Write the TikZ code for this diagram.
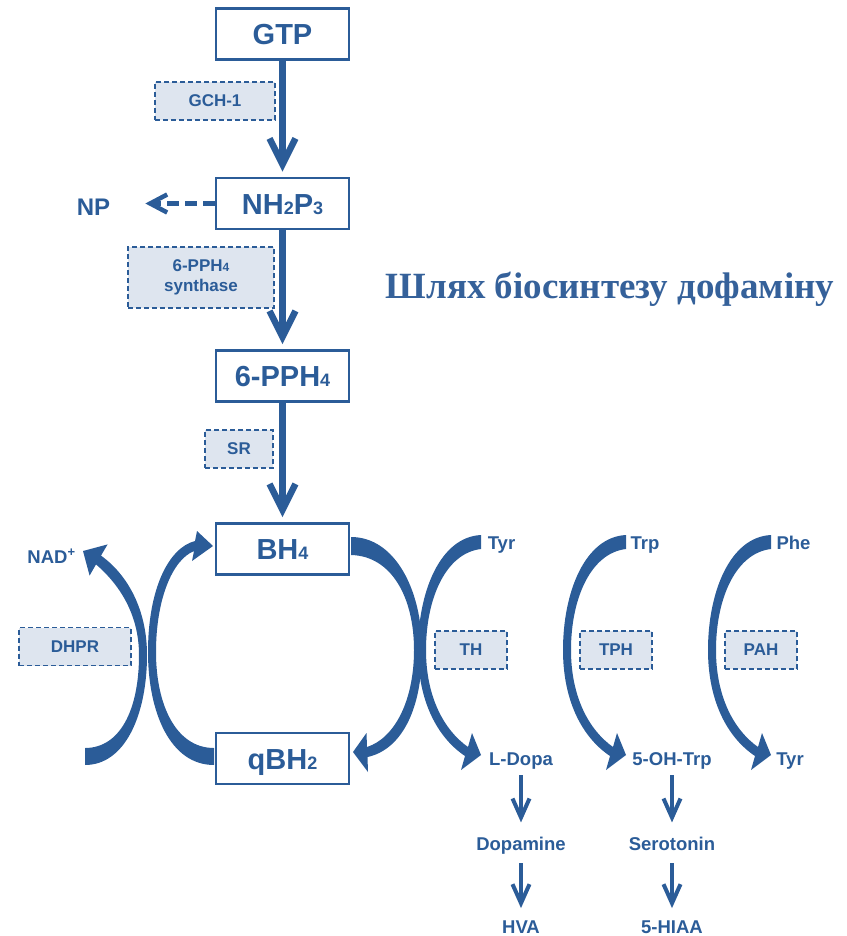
\documentclass[tikz,border=0pt]{standalone}
\usepackage{fontspec}
\setmainfont{Liberation Sans}
\newfontfamily\titlefont{Liberation Serif}
\usetikzlibrary{arrows.meta}
\definecolor{mblue}{HTML}{2B5C98}
\definecolor{efill}{HTML}{DEE5EF}
\definecolor{ttl}{HTML}{35619A}
\newcommand{\smd}[1]{{\fontsize{18}{18}\selectfont #1}}
\newcommand{\esd}[1]{{\fontsize{12}{12}\selectfont #1}}
\begin{document}
\begin{tikzpicture}[x=1pt,y=-1pt,
  mainbox/.style={draw=mblue,line width=2.6pt,minimum width=133pt,minimum height=51pt,inner sep=0pt,text=mblue,font=\fontsize{29}{30}\selectfont\bfseries,text height=21pt,text depth=0pt},
  enzbox/.style={draw=mblue,line width=1.6pt,dash pattern=on 5pt off 3pt,fill=efill,inner sep=0pt,text=mblue,font=\fontsize{17}{20}\selectfont\bfseries,align=center},
  lbl/.style={text=mblue,font=\fontsize{18.5}{20}\selectfont\bfseries,inner sep=0pt,anchor=base},
  mainarrow/.style={draw=mblue,line width=6.5pt,-{Straight Barb[length=26pt,width=26pt]}},
  smallarrow/.style={draw=mblue,line width=4pt,-{Straight Barb[length=19pt,width=17pt]}},
  dasharrow/.style={draw=mblue,line width=4.5pt,dash pattern=on 12pt off 6pt,-{Straight Barb[length=17pt,width=18pt]}},
  crescent/.style={fill=mblue}
]
\useasboundingbox (0,0) rectangle (846,936);

% main boxes
\node[mainbox] (gtp) at (282.5,34) {GTP};
\node[mainbox] (nh) at (282.5,203.5) {NH\smd{2}P\smd{3}};
\node[mainbox] (pph) at (282.5,376) {6-PPH\smd{4}};
\node[mainbox] (bh4) at (282.5,549) {BH\smd{4}};
\node[mainbox] (qbh2) at (282.5,758.5) {qBH\smd{2}};

% enzyme boxes
\node[enzbox,minimum width=120pt,minimum height=38pt] (gch) at (215,101) {GCH-1};
\node[enzbox,minimum width=146pt,minimum height=61pt] (ppts) at (201,277.5) {6-PPH\esd{4}\\synthase};
\node[enzbox,minimum width=68pt,minimum height=38pt] (sr) at (239,449) {SR};
\node[enzbox,minimum width=112pt,minimum height=38pt] (dhpr) at (75,646.5) {DHPR};
\node[enzbox,minimum width=72pt,minimum height=38pt] (th) at (471,650) {TH};
\node[enzbox,minimum width=72pt,minimum height=38pt] (tph) at (616,650) {TPH};
\node[enzbox,minimum width=72pt,minimum height=38pt] (pah) at (761,650) {PAH};

% labels
\node[lbl,font=\fontsize{24}{24}\selectfont\bfseries] (np) at (93.5,215) {NP};
\node[lbl] (nad) at (51.5,563) {NAD\textsuperscript{+}};
\node[lbl] (tyr) at (501.5,549) {Tyr};
\node[lbl] (trp) at (645,549) {Trp};
\node[lbl] (phe) at (793.5,549) {Phe};
\node[lbl] (ldopa) at (521,765) {L-Dopa};
\node[lbl] (ohtrp) at (672,765) {5-OH-Trp};
\node[lbl] (tyrb) at (790,765) {Tyr};
\node[lbl] (dopa) at (521,850) {Dopamine};
\node[lbl] (sero) at (672,850) {Serotonin};
\node[lbl] (hva) at (521,933) {HVA};
\node[lbl] (hiaa) at (672,933) {5-HIAA};

% title
\node[text=ttl,font=\titlefont\fontsize{37}{40}\selectfont\bfseries,inner sep=0pt,anchor=base] (title) at (610,298) {Шлях біосинтезу дофаміну};

% straight arrows
\draw[mainarrow,shorten >=5pt] (gtp) -- (nh);
\draw[mainarrow,shorten >=5pt] (nh) -- (pph);
\draw[mainarrow,shorten >=5pt] (pph) -- (bh4);
\draw[dasharrow,shorten >=35pt] (nh.west) -- (nh.west -| np.east);
\draw[smallarrow,shorten <=6pt,shorten >=14pt] (ldopa) -- (dopa);
\draw[smallarrow,shorten <=9pt,shorten >=12pt] (dopa) -- (hva);
\draw[smallarrow,shorten <=6pt,shorten >=14pt] (ohtrp) -- (sero);
\draw[smallarrow,shorten <=13pt,shorten >=12pt] (sero) -- (hiaa);

% curved arrows: qBH2 -> BH4
\fill[crescent] (214,765) .. controls (170,765) and (148,712) .. (148,652) .. controls (148,590) and (168,548) .. (195,541) -- (197,531) -- (213,546) -- (192,561) -- (194,551) .. controls (172,560) and (156,600) .. (156,652) .. controls (156,705) and (176,748) .. (214,748) -- cycle;
% DHPR arc -> NAD+
\fill[crescent] (85,765) .. controls (125,765) and (147,715) .. (147,655) .. controls (147,610) and (128,575) .. (101,555.6) -- (107.6,544.4) -- (83,551) -- (89.6,575.6) -- (96,564.4) .. controls (120,585) and (139,615) .. (139,655) .. controls (139,710) and (120,748) .. (85,748) -- cycle;
% BH4 -> qBH2
\fill[crescent] (351,537) .. controls (395,537) and (422,590) .. (422,650) .. controls (422,712) and (400,750) .. (367.5,757) -- (368,772) -- (353,752) -- (366.5,733) -- (367,747) .. controls (395,738) and (414,700) .. (414,650) .. controls (414,598) and (392,556) .. (351,555) -- cycle;
% Tyr -> L-Dopa, Trp -> 5-OH-Trp, Phe -> Tyr
\foreach \dx in {0,145,290}{
  \begin{scope}[xshift=\dx pt]
  \fill[crescent] (481,535) .. controls (440,537) and (418,592) .. (418,650) .. controls (418,702) and (438,738) .. (465,756) -- (461,770) -- (481,755) -- (472,733) -- (468,747) .. controls (444,730) and (426,697) .. (426,650) .. controls (426,598) and (446,553) .. (481,549) -- cycle;
  \end{scope}
}
\end{tikzpicture}
\end{document}
